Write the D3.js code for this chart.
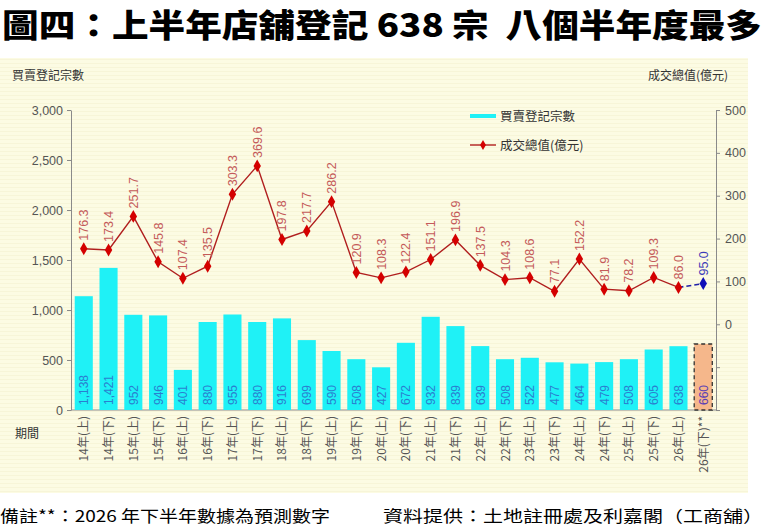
<!DOCTYPE html>
<html>
<head>
<meta charset="utf-8">
<script src="https://cdn.jsdelivr.net/npm/d3@7"></script>
<style>
  body { margin: 0; background: #fff; }
  svg text { font-family: "Liberation Sans", "Noto Sans CJK TC", sans-serif; }
  .cjk { font-family: "Noto Sans CJK TC", sans-serif; }
</style>
</head>
<body>
<div id="chart"></div>
<script>
// ---- data ----
const periods = [
    "14年(上)", "14年(下)", "15年(上)", "15年(下)", "16年(上)", "16年(下)",
    "17年(上)", "17年(下)", "18年(上)", "18年(下)", "19年(上)", "19年(下)",
    "20年(上)", "20年(下)", "21年(上)", "21年(下)", "22年(上)", "22年(下)",
    "23年(上)", "23年(下)", "24年(上)", "24年(下)", "25年(上)", "25年(下)",
    "26年(上)", "26年(下)**"
];
const deals = [1138, 1421, 952, 946, 401, 880, 955, 880, 916, 699, 590, 508, 427,
               672, 932, 839, 639, 508, 522, 477, 464, 479, 508, 605, 638, 660];
const values = [176.3, 173.4, 251.7, 145.8, 107.4, 135.5, 303.3, 369.6, 197.8, 217.7,
                286.2, 120.9, 108.3, 122.4, 151.1, 196.9, 137.5, 104.3, 108.6, 77.1,
                152.2, 81.9, 78.2, 109.3, 86.0];
const forecastValue = 95.0;   // 26年(下) estimate
const leftTicks = [0, 500, 1000, 1500, 2000, 2500, 3000];
const rightTicks = [-200, -100, 0, 100, 200, 300, 400, 500];

const W = 766, H = 530;
const m = { left: 71, right: 50, top: 110, bottom: 120 };

const svg = d3.select("#chart").append("svg")
    .attr("width", W).attr("height", H);

// cream panel with faint stripes
const defs = svg.append("defs");
const pat = defs.append("pattern").attr("id", "stripes")
    .attr("width", 4).attr("height", 4).attr("patternUnits", "userSpaceOnUse");
pat.append("rect").attr("width", 4).attr("height", 4).attr("fill", "#fcfbe3");
pat.append("rect").attr("y", 3).attr("width", 4).attr("height", 1).attr("fill", "#f7f5d8");

svg.append("rect").attr("x", 0).attr("y", 58).attr("width", 748).attr("height", 435)
    .attr("fill", "url(#stripes)");

// title
svg.append("text").attr("class", "cjk")
    .attr("x", 2).attr("y", 37)
    .attr("textLength", 760).attr("lengthAdjust", "spacingAndGlyphs")
    .style("white-space", "pre")
    .style("font-size", "32px").style("font-weight", 900).attr("fill", "#000")
    .text("圖四：上半年店舖登記 638 宗  八個半年度最多");

// scales
const x = d3.scaleBand().domain(periods).range([m.left, 716]).paddingInner(0.27).paddingOuter(0.15);
const yL = d3.scaleLinear().domain([0, 3000]).range([410, 110]);
const yR = d3.scaleLinear().domain([-200, 500]).range([410, 110]);

// axes
const axL = svg.append("g").attr("transform", `translate(${m.left},0)`)
    .call(d3.axisLeft(yL).tickValues(leftTicks).tickFormat(d3.format(",")).tickSize(4).tickSizeOuter(0));
const axR = svg.append("g").attr("transform", "translate(716,0)")
    .call(d3.axisRight(yR).tickValues(rightTicks).tickFormat(d => d < 0 ? "" : d).tickSize(4).tickSizeOuter(0));
[axL, axR].forEach(a => {
    a.select(".domain").attr("stroke", "#8a8a8a");
    a.selectAll(".tick line").attr("stroke", "#8a8a8a");
    a.selectAll(".tick text").attr("fill", "#555").style("font-size", "12.5px")
        .style("font-family", "Liberation Sans, sans-serif");
});
axR.selectAll(".tick text").attr("x", 9);
axL.selectAll(".tick text").attr("x", -8);

svg.append("line").attr("x1", m.left).attr("x2", 716).attr("y1", 410).attr("y2", 410)
    .attr("stroke", "#8a8a8a");

// bars
const last = periods.length - 1;
svg.append("g").selectAll("rect").data(deals).join("rect")
    .attr("x", (d, i) => x(periods[i]))
    .attr("width", x.bandwidth())
    .attr("y", d => yL(d))
    .attr("height", d => yL(0) - yL(d))
    .attr("fill", (d, i) => i === last ? "#f5b78b" : "#1ff1f6")
    .attr("stroke", (d, i) => i === last ? "#333" : "none")
    .attr("stroke-width", 1.3)
    .attr("stroke-dasharray", "4,3");

// bar labels
svg.append("g").selectAll("text").data(deals).join("text")
    .attr("transform", (d, i) => `translate(${x(periods[i]) + x.bandwidth() / 2 + 4.5},405) rotate(-90)`)
    .attr("fill", (d, i) => i === last ? "#5a3fb4" : "#2a7fd0")
    .style("font-size", "12px")
    .text(d => d3.format(",")(d));

// x labels
svg.append("g").selectAll("text").data(periods).join("text")
    .attr("class", "cjk")
    .attr("transform", d => `translate(${x(d) + x.bandwidth() / 2 + 4.5},416) rotate(-90)`)
    .attr("text-anchor", "end")
    .attr("fill", "#555")
    .style("font-size", "12px")
    .text(d => d);

// value line
const cx = i => x(periods[i]) + x.bandwidth() / 2;
const line = d3.line().x((d, i) => cx(i)).y(d => yR(d));
svg.append("path").datum(values).attr("d", line)
    .attr("fill", "none").attr("stroke", "#b01e1e").attr("stroke-width", 1.4);

// forecast segment
svg.append("line")
    .attr("x1", cx(last - 1)).attr("y1", yR(values[values.length - 1]))
    .attr("x2", cx(last)).attr("y2", yR(forecastValue))
    .attr("stroke", "#2020a8").attr("stroke-width", 1.6).attr("stroke-dasharray", "5,3");

const diamond = d3.symbol().type(d3.symbolDiamond).size(48);
svg.append("g").selectAll("path").data(values).join("path")
    .attr("d", diamond)
    .attr("transform", (d, i) => `translate(${cx(i)},${yR(d)})`)
    .attr("fill", "#d40000");
svg.append("path").attr("d", diamond)
    .attr("transform", `translate(${cx(last)},${yR(forecastValue)})`)
    .attr("fill", "#1010b8");

// value labels
svg.append("g").selectAll("text").data(values).join("text")
    .attr("transform", (d, i) => `translate(${cx(i) + 4.5},${yR(d) - 8}) rotate(-90)`)
    .attr("fill", "#c45a5a")
    .style("font-size", "12.5px")
    .text(d => d.toFixed(1));
svg.append("text")
    .attr("transform", `translate(${cx(last) + 4.5},${yR(forecastValue) - 8}) rotate(-90)`)
    .attr("fill", "#3a3ab8")
    .style("font-size", "12.5px")
    .text(forecastValue.toFixed(1));

// legend
const lg = svg.append("g").attr("class", "cjk");
lg.append("line").attr("x1", 470).attr("x2", 496).attr("y1", 116).attr("y2", 116)
    .attr("stroke", "#1ff1f6").attr("stroke-width", 4);
lg.append("text").attr("class", "cjk").attr("x", 500).attr("y", 121)
    .attr("fill", "#333").style("font-size", "12.5px").text("買賣登記宗數");
lg.append("line").attr("x1", 470).attr("x2", 496).attr("y1", 145).attr("y2", 145)
    .attr("stroke", "#b01e1e").attr("stroke-width", 1.4);
lg.append("path").attr("d", d3.symbol().type(d3.symbolDiamond).size(30))
    .attr("transform", "translate(483,145)").attr("fill", "#d40000");
lg.append("text").attr("class", "cjk").attr("x", 500).attr("y", 150)
    .attr("fill", "#333").style("font-size", "12.5px").text("成交總值(億元)");

// axis titles
svg.append("text").attr("class", "cjk").attr("x", 12).attr("y", 80)
    .attr("fill", "#333").style("font-size", "12px").text("買賣登記宗數");
svg.append("text").attr("class", "cjk").attr("x", 728).attr("y", 80).attr("text-anchor", "end")
    .attr("fill", "#333").style("font-size", "12px").text("成交總值(億元)");
svg.append("text").attr("class", "cjk").attr("x", 15).attr("y", 438)
    .attr("fill", "#333").style("font-size", "12px").text("期間");

// footer
svg.append("text").attr("class", "cjk").attr("x", 0).attr("y", 522)
    .attr("textLength", 330).attr("lengthAdjust", "spacingAndGlyphs")
    .attr("fill", "#000").style("font-size", "16px").text("備註**：2026 年下半年數據為預測數字");
svg.append("text").attr("class", "cjk").attr("x", 383).attr("y", 522)
    .attr("textLength", 380).attr("lengthAdjust", "spacingAndGlyphs")
    .attr("fill", "#000").style("font-size", "16px").text("資料提供：土地註冊處及利嘉閣（工商舖）");
</script>
</body>
</html>
